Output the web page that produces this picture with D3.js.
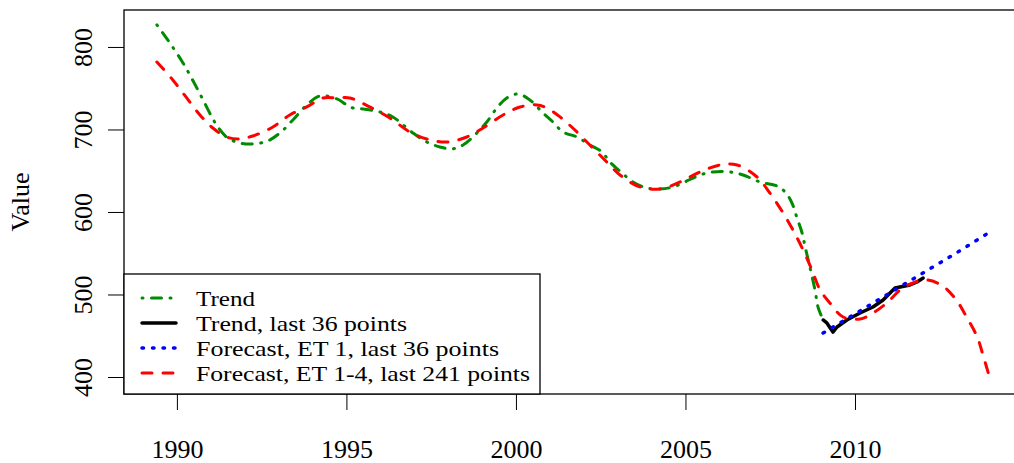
<!DOCTYPE html>
<html><head><meta charset="utf-8">
<script src="https://cdn.jsdelivr.net/npm/d3@7"></script>
<style>body{margin:0;background:#fff}svg{display:block}</style>
</head><body><svg id="c" width="1014" height="463"></svg>
<script>
const trendYears = [1989.41,1989.73,1990.18,1990.62,1991.03,1991.21,1991.5,1991.86,1992.24,1992.68,1993.04,1993.42,1993.83,1994.22,1994.72,1995.01,1995.19,1995.49,1995.99,1996.37,1996.96,1997.37,1997.76,1998.11,1998.44,1998.85,1999.14,1999.44,1999.73,2000.06,2000.41,2000.8,2001.09,2001.39,2001.8,2002.18,2002.54,2002.77,2003.13,2003.45,2003.86,2004.25,2004.63,2005.04,2005.43,2005.81,2006.31,2006.7,2007.2,2007.7,2007.94,2008.14,2008.29,2008.44,2008.53,2008.67,2008.82,2008.91,2009.06];
const trendValues = [826.7,808.5,780.6,747.9,715.2,703.0,689.7,683.6,682.4,686.1,695.8,711.5,729.7,740.6,737.0,729.7,726.1,724.8,721.2,715.2,695.8,684.8,678.8,676.4,681.2,695.8,709.1,726.1,738.2,743.0,735.8,720.0,709.1,697.0,690.9,681.2,672.7,660.6,647.3,636.4,629.1,627.9,630.3,637.6,644.8,648.5,648.5,644.8,636.4,631.5,624.2,610.9,592.7,574.5,557.6,533.3,505.5,484.8,469.1];
const last36Years = [2009.06,2009.17,2009.35,2009.47,2009.76,2010.15,2010.53,2010.83,2011.18,2011.33,2011.62,2011.83,2012.01];
const last36Values = [469.1,465.5,454.5,460.6,469.1,477.6,484.8,493.3,507.9,509.1,511.5,515.2,520.0];
const et1Years = [2009.06,2010,2011,2012,2013,2013.98];
const et1Values = [453.3,476.5,501.2,525.9,550.6,575.8];
const et14Years = [1989.41,1989.88,1990.29,1990.68,1991.06,1991.47,1991.8,1992.24,1992.83,1993.33,1993.83,1994.31,1994.72,1995.1,1995.69,1996.28,1996.87,1997.37,1997.96,1998.55,1999.03,1999.62,2000.12,2000.62,2000.91,2001.3,2001.8,2002.18,2002.68,2003.07,2003.66,2004.25,2004.84,2005.43,2006.02,2006.52,2007.11,2007.49,2007.88,2008.17,2008.47,2008.73,2008.97,2009.26,2009.65,2010.15,2010.53,2010.94,2011.33,2011.71,2012.12,2012.6,2013.01,2013.3,2013.6,2013.78,2013.98];
const et14Values = [781.8,760.0,738.2,717.6,701.8,690.9,688.5,692.1,703.0,717.6,727.3,738.2,738.2,738.2,727.3,713.9,697.0,688.5,684.8,690.9,701.8,717.6,727.3,729.7,726.1,715.2,697.0,681.2,660.6,644.8,630.3,627.9,636.4,648.5,657.0,657.0,642.4,623.0,598.8,578.2,554.0,529.7,505.5,489.7,472.7,470.3,477.6,489.7,505.5,513.9,517.6,510.0,492.0,472.0,449.0,426.0,398.0];
const xTicks = [1990,1995,2000,2005,2010];
const yTicks = [400,500,600,700,800];
const legendLabels = ["Trend","Trend, last 36 points","Forecast, ET 1, last 36 points","Forecast, ET 1-4, last 241 points"];

const FONT = "Liberation Serif";
const svg = d3.select("#c");
const L=124, R=1014, T=10, B=394;
const x = d3.scaleLinear().domain([1988.44,2014.69]).range([L,R]);
const y = d3.scaleLinear().domain([379.4,844.8]).range([B,T]);

const series = [
  {xs:trendYears, ys:trendValues, color:"#008B00", dash:"1,8.5,10,8.5", w:3, curve:d3.curveCatmullRom},
  {xs:last36Years, ys:last36Values, color:"#000000", dash:null, w:3.5, curve:d3.curveLinear},
  {xs:et1Years, ys:et1Values, color:"#0000FF", dash:"1.5,9", w:3.5, curve:d3.curveLinear},
  {xs:et14Years, ys:et14Values, color:"#FF0000", dash:"10,11", w:3, curve:d3.curveCatmullRom}
];
series.forEach(s=>{
  const pts = s.xs.map((v,i)=>[v,s.ys[i]]);
  const p = svg.append("path").attr("d", d3.line().x(d=>x(d[0])).y(d=>y(d[1])).curve(s.curve)(pts))
    .attr("fill","none").attr("stroke",s.color).attr("stroke-width",s.w)
    .attr("stroke-linecap","round").attr("stroke-linejoin","round");
  if (s.dash) p.attr("stroke-dasharray",s.dash);
});

svg.append("rect").attr("x",L).attr("y",T).attr("width",R-L+5).attr("height",B-T)
  .attr("fill","none").attr("stroke","#000000").attr("stroke-width",1.3);

const xa = svg.append("g").attr("transform",`translate(0,${B})`)
  .call(d3.axisBottom(x).tickValues(xTicks).tickSize(16).tickPadding(0).tickFormat(d3.format("d")));
xa.attr("font-family",FONT).attr("font-size",26);
xa.select(".domain").remove();
xa.selectAll("line").attr("stroke","#000000").attr("stroke-width",1);
xa.selectAll("text").attr("y",null).attr("dy",null).attr("transform","translate(0,64)")
  .attr("font-family",FONT).attr("font-size",26).attr("fill","#000000");

const ya = svg.append("g").attr("transform",`translate(${L},0)`)
  .call(d3.axisLeft(y).tickValues(yTicks).tickSize(16).tickFormat(d3.format("d")));
ya.attr("font-family",FONT).attr("font-size",26);
ya.select(".domain").remove();
ya.selectAll("line").attr("stroke","#000000").attr("stroke-width",1);
ya.selectAll("text").attr("x",null).attr("dy",null).attr("text-anchor","middle")
  .attr("transform","translate(-32,0) rotate(-90)")
  .attr("font-family",FONT).attr("font-size",26).attr("fill","#000000");

svg.append("text").attr("transform","translate(29,202) rotate(-90)").attr("text-anchor","middle")
  .attr("font-family",FONT).attr("font-size",26).attr("fill","#000000").text("Value");

const legendTextWidths = [59,211,303,334];
const lg = svg.append("g");
lg.append("rect").attr("x",L).attr("y",274).attr("width",540-L).attr("height",B-274)
  .attr("fill","#ffffff").attr("stroke","#000000").attr("stroke-width",1.3);
legendLabels.forEach((lab,i)=>{
  const s = series[i];
  const yy = 298 + i*25;
  const ln = lg.append("line").attr("x1",142).attr("x2",176).attr("y1",yy).attr("y2",yy)
    .attr("stroke",s.color).attr("stroke-width",s.w).attr("stroke-linecap","round");
  if (s.dash) ln.attr("stroke-dasharray",s.dash);
  lg.append("text").attr("x",196).attr("y",yy+7.5).attr("font-family",FONT).attr("font-size",21.5)
    .attr("textLength",legendTextWidths[i]).attr("lengthAdjust","spacingAndGlyphs")
    .attr("fill","#000000").text(lab);
});
</script></body></html>
